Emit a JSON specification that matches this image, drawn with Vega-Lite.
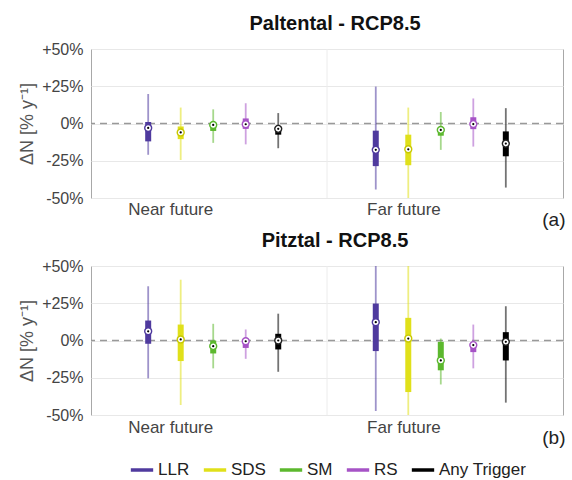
{
  "$schema": "https://vega.github.io/schema/vega-lite/v6.json",
  "background": "white",
  "padding": {"left": 18, "top": 13, "right": 0, "bottom": 0},
  "config": {
    "font": "Liberation Sans",
    "view": {"stroke": "#a8a8a8", "strokeWidth": 1}
  },
  "datasets": {
    "boxes": [
      {"site": "Paltental", "period": "Near future", "series": "LLR", "lo": -21, "q1": -12, "med": -3, "q3": 1, "hi": 19.8},
      {"site": "Paltental", "period": "Near future", "series": "SDS", "lo": -24.5, "q1": -10.5, "med": -6, "q3": -2, "hi": 10.7},
      {"site": "Paltental", "period": "Near future", "series": "SM", "lo": -13, "q1": -5, "med": -1, "q3": 0.5, "hi": 9.5},
      {"site": "Paltental", "period": "Near future", "series": "RS", "lo": -14, "q1": -3.6, "med": -0.5, "q3": 3.4, "hi": 13.6},
      {"site": "Paltental", "period": "Near future", "series": "Any Trigger", "lo": -16.6, "q1": -7.5, "med": -3.6, "q3": -2, "hi": 7},
      {"site": "Paltental", "period": "Far future", "series": "LLR", "lo": -44.3, "q1": -28.6, "med": -17.7, "q3": -4.8, "hi": 24.8},
      {"site": "Paltental", "period": "Far future", "series": "SDS", "lo": -50, "q1": -28, "med": -17.3, "q3": -7.5, "hi": 10.7},
      {"site": "Paltental", "period": "Far future", "series": "SM", "lo": -17.7, "q1": -8.2, "med": -4.3, "q3": -3, "hi": 7.7},
      {"site": "Paltental", "period": "Far future", "series": "RS", "lo": -15.5, "q1": -3.8, "med": -0.4, "q3": 4.2, "hi": 16.8},
      {"site": "Paltental", "period": "Far future", "series": "Any Trigger", "lo": -43, "q1": -22, "med": -13.5, "q3": -5.3, "hi": 10.3},
      {"site": "Pitztal", "period": "Near future", "series": "LLR", "lo": -25.4, "q1": -2.2, "med": 6.2, "q3": 13.4, "hi": 36.4},
      {"site": "Pitztal", "period": "Near future", "series": "SDS", "lo": -43.3, "q1": -13.8, "med": 0.7, "q3": 10.7, "hi": 40.8},
      {"site": "Pitztal", "period": "Near future", "series": "SM", "lo": -18.7, "q1": -8.7, "med": -3.8, "q3": 0, "hi": 11.2},
      {"site": "Pitztal", "period": "Near future", "series": "RS", "lo": -12.3, "q1": -5, "med": -0.5, "q3": 0.3, "hi": 7.4},
      {"site": "Pitztal", "period": "Near future", "series": "Any Trigger", "lo": -21, "q1": -6, "med": 0, "q3": 4.5, "hi": 18},
      {"site": "Pitztal", "period": "Far future", "series": "LLR", "lo": -47.3, "q1": -7.1, "med": 12.3, "q3": 24.8, "hi": 50},
      {"site": "Pitztal", "period": "Far future", "series": "SDS", "lo": -50, "q1": -34.6, "med": 1.3, "q3": 15.2, "hi": 50},
      {"site": "Pitztal", "period": "Far future", "series": "SM", "lo": -29.5, "q1": -20, "med": -13.4, "q3": -0.9, "hi": 1.3},
      {"site": "Pitztal", "period": "Far future", "series": "RS", "lo": -18.7, "q1": -7.8, "med": -3.1, "q3": -1.5, "hi": 10.7},
      {"site": "Pitztal", "period": "Far future", "series": "Any Trigger", "lo": -41.7, "q1": -13.4, "med": -0.9, "q3": 5.6, "hi": 23}
    ]
  },
  "spacing": 0,
  "vconcat": [
    {
      "title": {"text": "Paltental - RCP8.5", "fontSize": 20, "fontWeight": "bold", "color": "#111", "offset": 7, "dx": 8},
      "width": 472,
      "height": 149,
      "data": {"name": "boxes"},
      "transform": [{"filter": "datum.site === 'Paltental'"}],
      "layer": [
        {
          "data": {"values": [{"period": "Far future"}]},
          "mark": {"type": "rule", "color": "#ececec", "strokeWidth": 1},
          "encoding": {
            "x": {"field": "period", "type": "nominal", "bandPosition": 0, "sort": ["Near future", "Far future"]}
          }
        },
        {
          "data": {"values": [{"v": 0}]},
          "mark": {"type": "rule", "color": "#999999", "strokeDash": [7, 5], "strokeWidth": 1.3},
          "encoding": {
            "y": {"field": "v", "type": "quantitative", "scale": {"domain": [-50, 50], "nice": false}, "title": "ΔN [% y⁻¹]",
              "axis": {"values": [-50, -25, 0, 25, 50], "labelOverlap": false, "labelExpr": "datum.value > 0 ? '+' + datum.value + '%' : datum.value + '%'", "labelFontSize": 16, "labelColor": "#444", "labelPadding": 8, "ticks": false, "domain": false, "grid": true, "gridColor": "#e8e8e8", "titleFontSize": 18, "titleFontWeight": "normal", "titleColor": "#555", "titlePadding": 5}}
          }
        },
        {
          "mark": {"type": "rule", "strokeWidth": 1.8, "strokeOpacity": 0.55},
          "encoding": {
            "x": {"field": "period", "type": "nominal", "sort": ["Near future", "Far future"],
              "scale": {"paddingInner": 0, "paddingOuter": 0.037},
              "axis": {"title": "(a)", "titleFontSize": 19, "titleFontWeight": "normal", "titleColor": "#222", "titleAnchor": "end", "titleAlign": "right", "titleBaseline": "middle", "titleX": 474, "titleY": 21,
                "labelAngle": 0, "labelFontSize": 17, "labelColor": "#444", "labelPadding": 11, "ticks": false, "domain": false, "grid": false}},
            "xOffset": {"field": "series", "type": "nominal", "sort": ["LLR", "SDS", "SM", "RS", "Any Trigger"], "scale": {"paddingInner": 0, "paddingOuter": 1.24}},
            "y": {"field": "lo", "type": "quantitative", "scale": {"domain": [-50, 50], "nice": false}, "title": "ΔN [% y⁻¹]",
              "axis": {"values": [-50, -25, 0, 25, 50], "labelOverlap": false, "labelExpr": "datum.value > 0 ? '+' + datum.value + '%' : datum.value + '%'", "labelFontSize": 16, "labelColor": "#444", "labelPadding": 8, "ticks": false, "domain": false, "grid": true, "gridColor": "#e8e8e8", "titleFontSize": 18, "titleFontWeight": "normal", "titleColor": "#555", "titlePadding": 5}},
            "y2": {"field": "hi"},
            "color": {"field": "series", "type": "nominal", "sort": ["LLR", "SDS", "SM", "RS", "Any Trigger"],
              "scale": {"domain": ["LLR", "SDS", "SM", "RS", "Any Trigger"], "range": ["#4f3a9e", "#e0e01a", "#5cb82e", "#a653c6", "#000000"]},
              "legend": {"orient": "none", "legendX": 38, "legendY": 408, "direction": "horizontal", "title": null, "symbolType": "stroke", "symbolStrokeWidth": 3.5, "symbolSize": 500, "symbolOpacity": 1, "labelFontSize": 17, "labelColor": "#222", "columnPadding": 6, "labelOffset": 3,
                "encode": {"symbols": {"update": {"opacity": {"value": 1}, "strokeOpacity": {"value": 1}}}}}}
          }
        },
        {
          "mark": {"type": "bar", "size": 6},
          "encoding": {
            "x": {"field": "period", "type": "nominal", "sort": ["Near future", "Far future"]},
            "xOffset": {"field": "series", "type": "nominal", "sort": ["LLR", "SDS", "SM", "RS", "Any Trigger"]},
            "y": {"field": "q1", "type": "quantitative", "title": "ΔN [% y⁻¹]",
              "axis": {"values": [-50, -25, 0, 25, 50], "labelOverlap": false, "labelExpr": "datum.value > 0 ? '+' + datum.value + '%' : datum.value + '%'", "labelFontSize": 16, "labelColor": "#444", "labelPadding": 8, "ticks": false, "domain": false, "grid": true, "gridColor": "#e8e8e8", "titleFontSize": 18, "titleFontWeight": "normal", "titleColor": "#555", "titlePadding": 5}},
            "y2": {"field": "q3"},
            "color": {"field": "series", "type": "nominal", "sort": ["LLR", "SDS", "SM", "RS", "Any Trigger"]}
          }
        },
        {
          "mark": {"type": "point", "shape": "circle", "filled": true, "fill": "white", "size": 48, "strokeWidth": 1.4, "opacity": 1},
          "encoding": {
            "x": {"field": "period", "type": "nominal", "sort": ["Near future", "Far future"]},
            "xOffset": {"field": "series", "type": "nominal", "sort": ["LLR", "SDS", "SM", "RS", "Any Trigger"]},
            "y": {"field": "med", "type": "quantitative", "title": "ΔN [% y⁻¹]",
              "axis": {"values": [-50, -25, 0, 25, 50], "labelOverlap": false, "labelExpr": "datum.value > 0 ? '+' + datum.value + '%' : datum.value + '%'", "labelFontSize": 16, "labelColor": "#444", "labelPadding": 8, "ticks": false, "domain": false, "grid": true, "gridColor": "#e8e8e8", "titleFontSize": 18, "titleFontWeight": "normal", "titleColor": "#555", "titlePadding": 5}},
            "stroke": {"field": "series", "type": "nominal", "legend": null,
              "scale": {"domain": ["LLR", "SDS", "SM", "RS", "Any Trigger"], "range": ["#4f3a9e", "#c8c800", "#5cb82e", "#a653c6", "#222222"]}}
          }
        },
        {
          "mark": {"type": "point", "shape": "circle", "filled": true, "color": "#000", "size": 5, "opacity": 1},
          "encoding": {
            "x": {"field": "period", "type": "nominal", "sort": ["Near future", "Far future"]},
            "xOffset": {"field": "series", "type": "nominal", "sort": ["LLR", "SDS", "SM", "RS", "Any Trigger"]},
            "y": {"field": "med", "type": "quantitative", "title": "ΔN [% y⁻¹]",
              "axis": {"values": [-50, -25, 0, 25, 50], "labelOverlap": false, "labelExpr": "datum.value > 0 ? '+' + datum.value + '%' : datum.value + '%'", "labelFontSize": 16, "labelColor": "#444", "labelPadding": 8, "ticks": false, "domain": false, "grid": true, "gridColor": "#e8e8e8", "titleFontSize": 18, "titleFontWeight": "normal", "titleColor": "#555", "titlePadding": 5}}
          }
        }
      ]
    },
    {
      "title": {"text": "Pitztal - RCP8.5", "fontSize": 20, "fontWeight": "bold", "color": "#111", "offset": 7, "dx": 8},
      "width": 472,
      "height": 149,
      "data": {"name": "boxes"},
      "transform": [{"filter": "datum.site === 'Pitztal'"}],
      "layer": [
        {
          "data": {"values": [{"period": "Far future"}]},
          "mark": {"type": "rule", "color": "#ececec", "strokeWidth": 1},
          "encoding": {
            "x": {"field": "period", "type": "nominal", "bandPosition": 0, "sort": ["Near future", "Far future"]}
          }
        },
        {
          "data": {"values": [{"v": 0}]},
          "mark": {"type": "rule", "color": "#999999", "strokeDash": [7, 5], "strokeWidth": 1.3},
          "encoding": {
            "y": {"field": "v", "type": "quantitative", "scale": {"domain": [-50, 50], "nice": false}, "title": "ΔN [% y⁻¹]",
              "axis": {"values": [-50, -25, 0, 25, 50], "labelOverlap": false, "labelExpr": "datum.value > 0 ? '+' + datum.value + '%' : datum.value + '%'", "labelFontSize": 16, "labelColor": "#444", "labelPadding": 8, "ticks": false, "domain": false, "grid": true, "gridColor": "#e8e8e8", "titleFontSize": 18, "titleFontWeight": "normal", "titleColor": "#555", "titlePadding": 5}}
          }
        },
        {
          "mark": {"type": "rule", "strokeWidth": 1.8, "strokeOpacity": 0.55},
          "encoding": {
            "x": {"field": "period", "type": "nominal", "sort": ["Near future", "Far future"],
              "scale": {"paddingInner": 0, "paddingOuter": 0.037},
              "axis": {"title": "(b)", "titleFontSize": 19, "titleFontWeight": "normal", "titleColor": "#222", "titleAnchor": "end", "titleAlign": "right", "titleBaseline": "middle", "titleX": 474, "titleY": 22,
                "labelAngle": 0, "labelFontSize": 17, "labelColor": "#444", "labelPadding": 12, "ticks": false, "domain": false, "grid": false}},
            "xOffset": {"field": "series", "type": "nominal", "sort": ["LLR", "SDS", "SM", "RS", "Any Trigger"], "scale": {"paddingInner": 0, "paddingOuter": 1.24}},
            "y": {"field": "lo", "type": "quantitative", "scale": {"domain": [-50, 50], "nice": false}, "title": "ΔN [% y⁻¹]",
              "axis": {"values": [-50, -25, 0, 25, 50], "labelOverlap": false, "labelExpr": "datum.value > 0 ? '+' + datum.value + '%' : datum.value + '%'", "labelFontSize": 16, "labelColor": "#444", "labelPadding": 8, "ticks": false, "domain": false, "grid": true, "gridColor": "#e8e8e8", "titleFontSize": 18, "titleFontWeight": "normal", "titleColor": "#555", "titlePadding": 5}},
            "y2": {"field": "hi"},
            "color": {"field": "series", "type": "nominal", "sort": ["LLR", "SDS", "SM", "RS", "Any Trigger"]}
          }
        },
        {
          "mark": {"type": "bar", "size": 6},
          "encoding": {
            "x": {"field": "period", "type": "nominal", "sort": ["Near future", "Far future"]},
            "xOffset": {"field": "series", "type": "nominal", "sort": ["LLR", "SDS", "SM", "RS", "Any Trigger"]},
            "y": {"field": "q1", "type": "quantitative", "title": "ΔN [% y⁻¹]",
              "axis": {"values": [-50, -25, 0, 25, 50], "labelOverlap": false, "labelExpr": "datum.value > 0 ? '+' + datum.value + '%' : datum.value + '%'", "labelFontSize": 16, "labelColor": "#444", "labelPadding": 8, "ticks": false, "domain": false, "grid": true, "gridColor": "#e8e8e8", "titleFontSize": 18, "titleFontWeight": "normal", "titleColor": "#555", "titlePadding": 5}},
            "y2": {"field": "q3"},
            "color": {"field": "series", "type": "nominal", "sort": ["LLR", "SDS", "SM", "RS", "Any Trigger"]}
          }
        },
        {
          "mark": {"type": "point", "shape": "circle", "filled": true, "fill": "white", "size": 48, "strokeWidth": 1.4, "opacity": 1},
          "encoding": {
            "x": {"field": "period", "type": "nominal", "sort": ["Near future", "Far future"]},
            "xOffset": {"field": "series", "type": "nominal", "sort": ["LLR", "SDS", "SM", "RS", "Any Trigger"]},
            "y": {"field": "med", "type": "quantitative", "title": "ΔN [% y⁻¹]",
              "axis": {"values": [-50, -25, 0, 25, 50], "labelOverlap": false, "labelExpr": "datum.value > 0 ? '+' + datum.value + '%' : datum.value + '%'", "labelFontSize": 16, "labelColor": "#444", "labelPadding": 8, "ticks": false, "domain": false, "grid": true, "gridColor": "#e8e8e8", "titleFontSize": 18, "titleFontWeight": "normal", "titleColor": "#555", "titlePadding": 5}},
            "stroke": {"field": "series", "type": "nominal", "legend": null}
          }
        },
        {
          "mark": {"type": "point", "shape": "circle", "filled": true, "color": "#000", "size": 5, "opacity": 1},
          "encoding": {
            "x": {"field": "period", "type": "nominal", "sort": ["Near future", "Far future"]},
            "xOffset": {"field": "series", "type": "nominal", "sort": ["LLR", "SDS", "SM", "RS", "Any Trigger"]},
            "y": {"field": "med", "type": "quantitative", "title": "ΔN [% y⁻¹]",
              "axis": {"values": [-50, -25, 0, 25, 50], "labelOverlap": false, "labelExpr": "datum.value > 0 ? '+' + datum.value + '%' : datum.value + '%'", "labelFontSize": 16, "labelColor": "#444", "labelPadding": 8, "ticks": false, "domain": false, "grid": true, "gridColor": "#e8e8e8", "titleFontSize": 18, "titleFontWeight": "normal", "titleColor": "#555", "titlePadding": 5}}
          }
        }
      ]
    }
  ]
}
